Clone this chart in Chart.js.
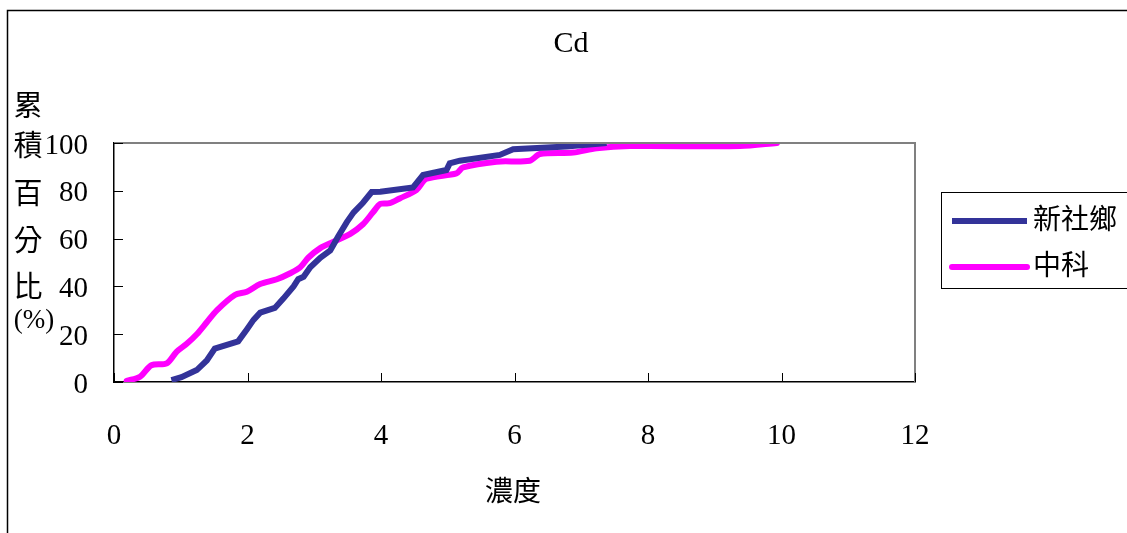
<!DOCTYPE html>
<html>
<head>
<meta charset="utf-8">
<script src="https://cdn.jsdelivr.net/npm/chart.js@4"></script>
<style>
  html, body { margin: 0; padding: 0; background: #fff; }
  #wrap { width: 1127px; height: 533px; position: relative; }
</style>
</head>
<body>
<div id="wrap"><canvas id="myChart" width="1127" height="533"></canvas></div>
<script>
// 新社鄉
const xinsheX = [0.86, 1.01, 1.24, 1.39, 1.51, 1.86, 1.99, 2.09, 2.19, 2.41, 2.54, 2.69, 2.76, 2.84, 2.94, 3.09, 3.24, 3.36, 3.49, 3.59, 3.73, 3.86, 3.99, 4.48, 4.63, 4.98, 5.03, 5.18, 5.78, 5.98, 6.78, 7.38];
const xinsheY = [0.8, 2, 5, 9, 14, 17, 22, 26, 29, 31, 35, 40, 43, 44, 48, 52, 55, 61, 67, 71, 75, 79.5, 79.6, 81.4, 86.6, 88.7, 91.5, 92.6, 95, 97.4, 98.5, 100];
// 中科
const zhongkeX = [0.19, 0.39, 0.56, 0.79, 0.94, 1.09, 1.24, 1.39, 1.54, 1.81, 1.99, 2.19, 2.44, 2.64, 2.79, 2.91, 3.09, 3.29, 3.54, 3.73, 3.88, 3.99, 4.13, 4.28, 4.53, 4.68, 5.13, 5.23, 5.73, 6.23, 6.38, 6.88, 7.23, 7.73, 9.38, 9.93];
const zhongkeY = [0.5, 2.2, 7, 7.8, 12.7, 16, 20, 25, 30, 36.4, 37.8, 41, 43, 45.5, 48, 52, 56, 58.7, 62, 66, 71, 74.5, 74.8, 76.8, 80.3, 85, 87.3, 89.8, 92.2, 92.6, 95.4, 96, 97.8, 98.7, 98.7, 100];

const seriesNames = ['新社鄉', '中科'];
const chartTitle = 'Cd';
const xTitle = '濃度';
const yTitleChars = ['累', '積', '百', '分', '比', '(%)'];

const FONT = '"Liberation Serif", "Noto Sans CJK TC", serif';

function toPoints(xs, ys) {
  return xs.map((x, i) => ({ x: x, y: ys[i] }));
}

// draws frame, inward ticks, titles and the legend box
const decorations = {
  id: 'decorations',
  afterDraw(chart) {
    const c = chart.ctx;
    const a = chart.chartArea;
    const xs = chart.scales.x;
    const ys = chart.scales.y;
    c.save();

    // outer frame
    c.strokeStyle = '#000';
    c.lineWidth = 1.5;
    c.beginPath();
    c.moveTo(7.5, 533);
    c.lineTo(7.5, 10.5);
    c.lineTo(1127, 10.5);
    c.stroke();

    // top / right of plot area
    c.strokeStyle = '#808080';
    c.lineWidth = 2;
    c.beginPath();
    c.moveTo(a.left, a.top);
    c.lineTo(a.right, a.top);
    c.lineTo(a.right, a.bottom);
    c.stroke();

    // inward tick marks
    c.strokeStyle = '#000';
    c.lineWidth = 1;
    c.beginPath();
    ys.ticks.forEach(t => {
      const py = Math.round(ys.getPixelForValue(t.value)) + 0.5;
      c.moveTo(a.left, py);
      c.lineTo(a.left + 9, py);
    });
    xs.ticks.forEach(t => {
      const px = Math.round(xs.getPixelForValue(t.value)) + 0.5;
      c.moveTo(px, a.bottom);
      c.lineTo(px, a.bottom - 9);
    });
    c.stroke();

    c.fillStyle = '#000';
    c.textAlign = 'center';
    c.textBaseline = 'middle';

    // title
    c.font = '30px ' + FONT;
    c.fillText(chartTitle, 571, 44);

    // x title
    c.font = '28px ' + FONT;
    c.fillText(xTitle, 513, 494);

    // y title, stacked
    const yPos = [108, 148, 196, 243, 289, 321];
    yTitleChars.forEach((ch, i) => {
      c.font = (ch.length > 1 ? '27px ' : '29px ') + FONT;
      c.fillText(ch, ch.length > 1 ? 34 : 28, yPos[i]);
    });

    // legend
    c.strokeStyle = '#000';
    c.lineWidth = 1;
    c.strokeRect(941.5, 192.5, 200, 96);
    c.textAlign = 'left';
    c.font = '28px ' + FONT;
    chart.data.datasets.forEach((ds, i) => {
      const ly = 221 + i * 46;
      c.strokeStyle = ds.borderColor;
      c.lineWidth = ds.borderWidth;
      c.lineCap = i === 1 ? 'round' : 'butt';
      c.beginPath();
      c.moveTo(952, ly);
      c.lineTo(1027, ly);
      c.stroke();
      c.fillStyle = '#000';
      c.fillText(ds.label, 1033, ly + 1);
    });

    c.restore();
  }
};

const ctx = document.getElementById('myChart');

const config = {
  type: 'line',
  data: {
    datasets: [
      {
        label: seriesNames[0],
        data: toPoints(xinsheX, xinsheY),
        borderColor: '#333399',
        borderWidth: 6,
        pointRadius: 0,
        tension: 0
      },
      {
        label: seriesNames[1],
        data: toPoints(zhongkeX, zhongkeY),
        borderColor: '#FF00FF',
        borderWidth: 6,
        pointRadius: 0,
        tension: 0.3,
        borderCapStyle: 'round',
        borderJoinStyle: 'round'
      }
    ]
  },
  options: {
    responsive: false,
    animation: false,
    layout: {
      padding: { top: 143, right: 212, left: 0, bottom: 0 }
    },
    plugins: {
      legend: false,
      title: false,
      tooltip: false
    },
    scales: {
      x: {
        type: 'linear',
        min: 0,
        max: 12,
        ticks: {
          stepSize: 2,
          color: '#000',
          padding: 37,
          font: { family: FONT, size: 29 }
        },
        grid: { display: false, drawTicks: false },
        border: { color: '#000', width: 1.5 },
        afterFit(scale) { scale.height = 151; }
      },
      y: {
        type: 'linear',
        min: 0,
        max: 100,
        ticks: {
          stepSize: 20,
          color: '#000',
          padding: 26,
          labelOffset: 3,
          font: { family: FONT, size: 29 }
        },
        grid: { display: false, drawTicks: false },
        border: { color: '#000', width: 1.5 },
        afterFit(scale) { scale.width = 114; }
      }
    }
  },
  plugins: [decorations]
};

let chart = new Chart(ctx, config);
</script>
</body>
</html>
